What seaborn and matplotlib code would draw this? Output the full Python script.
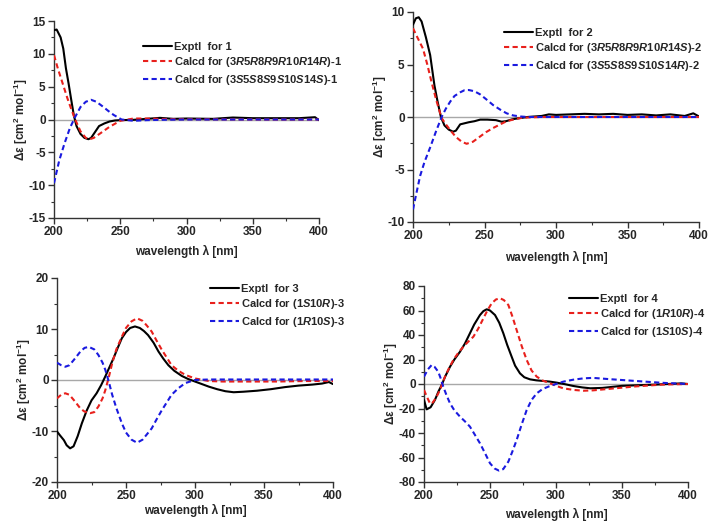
import matplotlib
matplotlib.use("Agg")
import matplotlib.pyplot as plt
import seaborn as sns
import pandas as pd
from matplotlib.ticker import MultipleLocator

# ---------------- data ----------------
# Panel 1
p1_exp_wl = [200, 202, 205, 207, 209, 211, 213, 215, 217, 220, 223, 226, 228, 231, 234, 238, 242, 246, 250, 260, 270, 280, 290, 300, 320, 335, 350, 370, 385, 397, 400]
p1_exp = [13.6, 13.7, 12.5, 10.8, 7.8, 5.5, 3.0, 0.6, -1.0, -2.2, -2.8, -3.0, -2.8, -1.9, -1.0, -0.6, -0.3, -0.15, -0.1, -0.05, 0.1, 0.25, 0.1, 0.15, 0.1, 0.3, 0.2, 0.2, 0.2, 0.35, -0.1]
p1_r_wl = [200, 203, 207, 210, 213, 216, 220, 224, 227, 230, 235, 242, 250, 260, 270, 280, 290, 300, 330, 360, 400]
p1_r = [9.8, 7.7, 5.2, 3.3, 1.6, 0.0, -1.8, -2.8, -3.0, -2.8, -2.1, -1.1, -0.2, 0.15, 0.15, 0.1, 0.05, 0.05, 0.02, 0.0, 0.0]
p1_b_wl = [200, 204, 208, 212, 216, 220, 224, 228, 232, 237, 241, 245, 251, 260, 270, 280, 300, 400]
p1_b = [-9.7, -6.2, -3.6, -1.3, 0.4, 1.9, 2.7, 3.0, 2.7, 1.95, 1.3, 0.7, 0.0, -0.2, -0.1, -0.05, 0.0, 0.0]

# Panel 2
p2_exp_wl = [200, 202, 204, 206, 209, 212, 215, 217, 219.5, 222, 225, 228, 230, 233, 236, 239, 243, 247, 252, 258, 262, 265, 270, 275, 280, 290, 295, 300, 310, 320, 330, 340, 350, 360, 370, 380, 390, 396, 400]
p2_exp = [8.8, 9.4, 9.5, 9.1, 7.6, 5.9, 3.0, 1.6, 0.0, -0.8, -1.2, -1.4, -1.3, -0.7, -0.6, -0.5, -0.4, -0.25, -0.25, -0.3, -0.45, -0.4, -0.2, -0.1, 0.0, 0.1, 0.25, 0.2, 0.25, 0.3, 0.25, 0.3, 0.2, 0.25, 0.15, 0.25, 0.1, 0.35, 0.05]
p2_r_wl = [200, 203, 207, 210, 213, 216.5, 220, 223, 226, 230, 234, 237.5, 242, 247, 251, 256, 261, 265.5, 270, 275, 280, 290, 300, 400]
p2_r = [8.45, 7.6, 6.5, 5.0, 3.3, 1.5, -0.1, -0.7, -1.25, -1.9, -2.35, -2.55, -2.35, -1.85, -1.45, -1.05, -0.7, -0.4, -0.25, -0.1, -0.05, 0.0, 0.0, 0.0]
p2_b_wl = [200, 202, 205, 208, 212, 216, 220, 223, 226, 229, 233, 236, 239, 243, 247, 252, 256, 261, 265.5, 270, 275, 280, 300, 400]
p2_b = [-8.8, -7.5, -5.6, -4.3, -2.9, -1.4, 0.0, 0.8, 1.46, 2.0, 2.35, 2.55, 2.57, 2.45, 2.15, 1.6, 1.14, 0.7, 0.35, 0.15, 0.05, 0.0, 0.0, 0.0]

# Panel 3
p3_exp_wl = [200, 202, 205, 207, 209.5, 212, 215, 218, 221.5, 225, 228.7, 232, 235, 238, 241, 244, 247, 250, 253, 256.5, 260, 263, 266, 270, 273.5, 277, 280.7, 285, 290.4, 295, 300, 305, 310, 316, 322, 328, 335, 345, 355, 365, 375, 385, 392, 397, 400]
p3_exp = [-10.1, -10.8, -11.8, -12.8, -13.4, -13.0, -11.0, -8.5, -6.0, -4.0, -2.6, -1.0, 0.7, 2.5, 4.3, 6.3, 8.2, 9.4, 10.2, 10.5, 10.2, 9.6, 8.8, 7.3, 5.6, 4.2, 2.9, 1.8, 0.8, 0.2, -0.3, -0.8, -1.3, -1.8, -2.2, -2.4, -2.3, -2.1, -1.8, -1.4, -1.1, -0.9, -0.7, -0.4, -0.8]
p3_r_wl = [200, 203, 206, 209, 213, 217, 220, 224, 227, 230, 233, 235, 237.5, 240, 243, 247, 250, 254, 258, 262, 265, 268.6, 272, 276, 280, 283, 288, 293, 300, 310, 320, 340, 360, 380, 400]
p3_r = [-3.6, -2.9, -2.6, -2.9, -4.2, -5.6, -6.2, -6.5, -6.3, -5.2, -3.6, -2.0, 0.5, 3.3, 6.0, 8.5, 10.2, 11.5, 12.1, 11.6, 10.7, 9.5, 7.8, 5.9, 4.2, 2.9, 1.8, 1.0, 0.3, -0.2, -0.3, -0.3, -0.3, -0.2, -0.2]
p3_b_wl = [200, 203, 206, 209, 213, 217, 220, 223, 227, 230, 233, 235, 237.5, 240, 243, 247, 250, 254, 258, 262, 265, 268.6, 272, 276, 280, 283, 288, 293, 300, 310, 400]
p3_b = [3.4, 2.9, 2.6, 2.9, 4.2, 5.6, 6.3, 6.5, 6.0, 4.9, 3.4, 2.0, -0.3, -2.9, -5.5, -8.5, -10.3, -11.7, -12.3, -11.7, -10.7, -9.5, -7.8, -5.9, -4.2, -2.9, -1.6, -0.6, 0.0, 0.1, 0.1]

# Panel 4
p4_exp_wl = [200, 202, 205, 208.3, 211, 213.4, 216, 219.7, 223, 227.3, 231, 234.8, 238, 242.4, 245, 247.5, 250, 253.8, 257, 260.1, 263, 266.4, 269, 272.7, 276, 280.3, 285, 290.4, 295, 300.5, 307, 313, 320, 326, 335, 350, 375, 395, 400]
p4_exp = [-13, -20.7, -19, -13, -6, -0.8, 6, 14.1, 20, 26.4, 33, 41.4, 48.5, 56.3, 59.5, 61, 60, 56.3, 50, 41.4, 32, 22.3, 15, 8.7, 5.5, 3.8, 3.0, 2.45, 2.0, 1.1, -0.2, -1.6, -2.8, -3.5, -3.2, -1.5, -0.5, 0.5, 0.0]
p4_r_wl = [200, 202, 204.5, 206, 209, 212.1, 215.9, 219, 222.2, 226, 229.8, 233, 237.4, 241, 245, 248, 251.3, 254.5, 257.6, 260.5, 263.9, 267, 270.2, 274, 277.8, 281.5, 285.4, 290, 295.5, 300, 305.5, 313, 320.7, 328, 340, 360, 380, 400]
p4_r = [-4.9, -10, -15.8, -16, -11.5, -4.9, 6, 13, 19.6, 25.5, 30.4, 34, 38.6, 45, 53.6, 60, 65.9, 69, 70, 68.5, 64.5, 55, 44, 31, 19.6, 11, 6, 2.8, 0.6, -1.5, -3.5, -4.8, -5.5, -5.2, -4, -2, -0.5, 0]
p4_b_wl = [200, 203, 205.8, 208, 210.8, 212.5, 214.6, 217, 219.7, 223, 227.3, 231, 234.8, 238, 242.4, 246, 250, 253.5, 256.8, 260, 263.9, 267, 270.2, 274, 277.8, 281.5, 285.4, 290, 295.5, 300, 305.5, 313, 320.7, 328, 340, 360, 380, 400]
p4_b = [6, 12, 15.5, 14, 10, 5, -2.2, -9, -15.8, -21.5, -26.7, -30.5, -34.8, -40.5, -48.4, -56, -64.7, -69, -70.7, -69.5, -63.4, -55, -45.7, -33, -21.2, -13, -7.6, -4, -1.6, 0, 1.9, 3.5, 4.6, 5, 4, 2.5, 1, 0]

labels1 = ["Exptl  for 1",
           r"Calcd for (3$\mathbfit{R}$5$\mathbfit{R}$8$\mathbfit{R}$9$\mathbfit{R}$10$\mathbfit{R}$14$\mathbfit{R}$)-1",
           r"Calcd for (3$\mathbfit{S}$5$\mathbfit{S}$8$\mathbfit{S}$9$\mathbfit{S}$10$\mathbfit{S}$14$\mathbfit{S}$)-1"]
labels2 = ["Exptl  for 2",
           r"Calcd for (3$\mathbfit{R}$5$\mathbfit{R}$8$\mathbfit{R}$9$\mathbfit{R}$10$\mathbfit{R}$14$\mathbfit{S}$)-2",
           r"Calcd for (3$\mathbfit{S}$5$\mathbfit{S}$8$\mathbfit{S}$9$\mathbfit{S}$10$\mathbfit{S}$14$\mathbfit{R}$)-2"]
labels3 = ["Exptl  for 3",
           r"Calcd for (1$\mathbfit{S}$10$\mathbfit{R}$)-3",
           r"Calcd for (1$\mathbfit{R}$10$\mathbfit{S}$)-3"]
labels4 = ["Exptl  for 4",
           r"Calcd for (1$\mathbfit{R}$10$\mathbfit{R}$)-4",
           r"Calcd for (1$\mathbfit{S}$10$\mathbfit{S}$)-4"]

# ---------------- style ----------------
sns.set_style("ticks")
plt.rcParams["font.family"] = ["Liberation Sans", "DejaVu Sans"]
plt.rcParams["font.weight"] = "bold"
plt.rcParams["axes.unicode_minus"] = False
plt.rcParams["mathtext.fontset"] = "custom"
plt.rcParams["mathtext.rm"] = "Liberation Sans:bold"
plt.rcParams["mathtext.bf"] = "Liberation Sans:bold"
plt.rcParams["mathtext.it"] = "Liberation Sans:italic:bold"
plt.rcParams["mathtext.bfit"] = "Liberation Sans:italic:bold"

fig = plt.figure(figsize=(7.15, 5.25), dpi=100)

panels = [
    dict(rect=[54/715, 1-218/525, 265/715, 197/525], ylim=(-15, 15), minor=2.5,
         series=[(p1_exp_wl, p1_exp), (p1_r_wl, p1_r), (p1_b_wl, p1_b)], labels=labels1,
         leg=(143, 42), yticks=[-15, -10, -5, 0, 5, 10, 15], xlp=5),
    dict(rect=[413/715, 1-222/525, 286/715, 210/525], ylim=(-10, 10), minor=2.5,
         series=[(p2_exp_wl, p2_exp), (p2_r_wl, p2_r), (p2_b_wl, p2_b)], labels=labels2,
         leg=(504, 28), yticks=[-10, -5, 0, 5, 10], xlp=6),
    dict(rect=[57/715, 1-482/525, 276/715, 204/525], ylim=(-20, 20), minor=5,
         series=[(p3_exp_wl, p3_exp), (p3_r_wl, p3_r), (p3_b_wl, p3_b)], labels=labels3,
         leg=(210, 284), yticks=[-20, -10, 0, 10, 20], xlp=1),
    dict(rect=[424/715, 1-482/525, 264/715, 196/525], ylim=(-80, 80), minor=10,
         series=[(p4_exp_wl, p4_exp), (p4_r_wl, p4_r), (p4_b_wl, p4_b)], labels=labels4,
         leg=(569, 294), yticks=[-80, -60, -40, -20, 0, 20, 40, 60, 80], xlp=4),
]

colors = ["black", "#e8201c", "#1a1adf"]
styles = ["-", (0, (2.5, 1.6)), (0, (2.5, 1.6))]

for p in panels:
    ax = fig.add_axes(p["rect"])
    ax.axhline(0, color="#a8a8a8", lw=1.0, zorder=1)
    for (wl, val), c, ls, lab in zip(p["series"], colors, styles, p["labels"]):
        df = pd.DataFrame({"wl": wl, "val": val})
        sns.lineplot(data=df, x="wl", y="val", ax=ax, color=c, linestyle=ls,
                     lw=1.5, sort=False, estimator=None, label=lab, zorder=3)
    ax.set_xlim(200, 400)
    ax.set_ylim(*p["ylim"])
    ax.set_yticks(p["yticks"])
    ax.xaxis.set_major_locator(MultipleLocator(50))
    ax.xaxis.set_minor_locator(MultipleLocator(25))
    ax.yaxis.set_minor_locator(MultipleLocator(p["minor"]))
    for s in ["top", "right"]:
        ax.spines[s].set_visible(False)
    for s in ["left", "bottom"]:
        ax.spines[s].set_linewidth(1.0)
        ax.spines[s].set_color("#333333")
    ax.tick_params(which="major", direction="out", length=4, width=1, labelsize=8.5, pad=2, color="#333333")
    ax.tick_params(which="minor", direction="out", length=2.5, width=0.8, color="#333333")
    for t in ax.get_xticklabels() + ax.get_yticklabels():
        t.set_fontweight("bold")
    ax.set_xlabel("wavelength λ [nm]", fontsize=8.5, fontweight="bold", labelpad=p["xlp"])
    ax.set_ylabel(r"Δε [cm$^{\mathbf{2}}$ mol$^{\mathbf{-1}}$]", fontsize=8.5, fontweight="bold", labelpad=-1)
    l, b, w, h = p["rect"]
    lx = (p["leg"][0]/715 - l) / w
    ly = ((1 - p["leg"][1]/525) - b) / h
    ax.legend(loc="upper left", bbox_to_anchor=(lx, ly), frameon=False,
              handlelength=2.6, handletextpad=0.2, labelspacing=0.3, borderpad=0, borderaxespad=0,
              prop={"weight": "bold", "size": 8})

fig.savefig("out.png", dpi=100)
